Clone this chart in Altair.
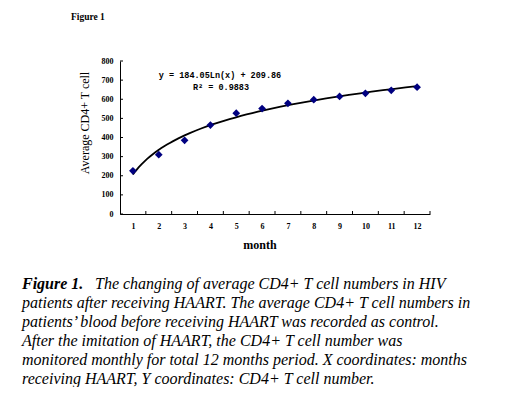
import altair as alt
import pandas as pd

# ---- data ----
months = list(range(1, 13))
cd4 = [226, 310, 385, 465, 527, 551, 579, 598, 615, 631, 647, 663]
y_ticks = [0, 100, 200, 300, 400, 500, 600, 700, 800]

fig_label = "Figure 1"
y_title = "Average CD4+ T cell"
x_title = "month"
eq_text = "y = 184.05Ln(x) + 209.86"
r2_text = "R\u00b2 = 0.9883"
cap_bold = "Figure 1."
cap_first = "The changing of average CD4+ T cell numbers in HIV"
cap_rest = [
    "patients after receiving HAART. The average CD4+ T cell numbers in",
    "patients\u2019 blood before receiving HAART was recorded as control.",
    "After the imitation of HAART, the CD4+ T cell number was",
    "monitored monthly for total 12 months period. X coordinates: months",
    "receiving HAART, Y coordinates: CD4+ T cell number.",
]

W, H = 310, 153
SERIF = "Liberation Serif"
MONO = "Liberation Mono"

df = pd.DataFrame({"month": months, "cd4": cd4})
ticks_df = pd.DataFrame({"cd4": y_ticks})

xscale = alt.Scale(domain=[0.5, 12.5], nice=False, zero=False)
yscale = alt.Scale(domain=[0, 800], nice=False)
xaxis = alt.Axis(values=months, title=None, ticks=False, tickSize=0, grid=False,
                 labelFont=SERIF, labelFontWeight="bold", labelFontSize=8,
                 labelColor="black", labelPadding=8, domainColor="black",
                 domainWidth=1)
yaxis = alt.Axis(values=y_ticks, title=None, ticks=False, tickSize=0, grid=False,
                 labelFont=SERIF, labelFontWeight="bold", labelFontSize=8,
                 labelColor="black", labelPadding=7, domainColor="black",
                 domainWidth=1)

X = alt.X("month:Q", scale=xscale, axis=xaxis)
Y = alt.Y("cd4:Q", scale=yscale, axis=yaxis)

points = alt.Chart(df).mark_point(shape="diamond", filled=True, size=60,
                                  color="#000080", opacity=1).encode(x=X, y=Y)

curve = alt.Chart(df).transform_regression(
    "month", "cd4", method="log"
).mark_line(color="black", strokeWidth=1.8).encode(x=X, y=Y)

xticks = alt.Chart(df).mark_rule(color="black", strokeWidth=1,
                                 xOffset=W / 24).encode(
    x=X, y=alt.value(H), y2=alt.value(H - 3))

yticks = alt.Chart(ticks_df).mark_rule(color="black", strokeWidth=1).encode(
    y=Y, x=alt.value(0), x2=alt.value(3))


def label(text, x, y, **kw):
    return alt.Chart(pd.DataFrame({"t": [text]})).mark_text(**kw).encode(
        text="t:N", x=alt.value(x), y=alt.value(y))


texts = [
    label(fig_label, -49, -41, font=SERIF, fontSize=9.5, fontWeight="bold",
          align="left", baseline="alphabetic", color="black"),
    label(y_title, -35, 62, font=SERIF, fontSize=12, angle=270,
          align="center", baseline="middle", color="black"),
    label(x_title, 140, 188, font=SERIF, fontSize=12, fontWeight="bold",
          align="center", baseline="alphabetic", color="black"),
    label(eq_text, 100, 14, font=MONO, fontSize=8.5, fontWeight="bold",
          align="center", baseline="middle", color="black"),
    label(r2_text, 101, 26, font=MONO, fontSize=8.5, fontWeight="bold",
          align="center", baseline="middle", color="black"),
    label(cap_bold, -98, 228, font=SERIF, fontSize=16, fontWeight="bold",
          fontStyle="italic", align="left", baseline="alphabetic", color="black"),
    label(cap_first, -25, 228, font=SERIF, fontSize=16,
          fontStyle="italic", align="left", baseline="alphabetic", color="black"),
    label("\n".join(cap_rest), -98, 247, font=SERIF, fontSize=16,
          fontStyle="italic", align="left", baseline="alphabetic",
          lineBreak="\n", lineHeight=19, color="black"),
]

chart = alt.layer(curve, points, xticks, yticks, *texts).properties(
    width=W, height=H,
    autosize=alt.AutoSizeParams(type="none"),
    padding={"left": 112, "top": 53, "right": 66, "bottom": 173},
    background="white",
).configure_view(stroke=None)

chart.save("out.html", embed_options={"renderer": "svg", "actions": False})
